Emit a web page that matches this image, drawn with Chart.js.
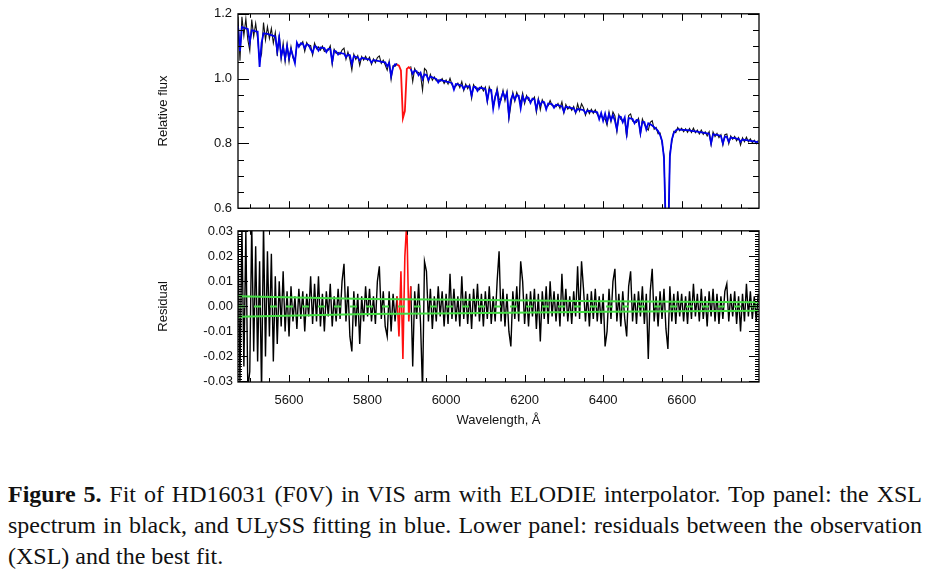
<!DOCTYPE html>
<html>
<head>
<meta charset="utf-8">
<script src="https://cdn.jsdelivr.net/npm/chart.js@4.4.1/dist/chart.umd.min.js"></script>
<style>
  html, body { margin: 0; padding: 0; background: #fff; }
  #wrap { position: relative; width: 930px; height: 581px; overflow: hidden; }
  canvas { position: absolute; left: 0; }
  #fluxChart { top: 0; }
  #residChart { top: 218px; }
  .cap { position: absolute; left: 8px; width: 914px; font-family: "Liberation Serif", "Times New Roman", serif;
         font-size: 24px; line-height: 31px; color: #111; }
  .just { text-align: justify; text-align-last: justify; }
</style>
</head>
<body>
<div id="wrap">
  <canvas id="fluxChart" width="930" height="222"></canvas>
  <canvas id="residChart" width="930" height="222"></canvas>
  <div class="cap" style="top:479px">
    <div class="just"><b>Figure 5.</b> Fit of HD16031 (F0V) in VIS arm with ELODIE interpolator. Top panel: the XSL</div>
    <div class="just">spectrum in black, and ULySS fitting in blue. Lower panel: residuals between the observation</div>
    <div>(XSL) and the best fit.</div>
  </div>
</div>
<script>
// wavelength grid, Angstrom
var wavelength = [
  5470,5475,5480,5485,5490,5495,5500,5505,5510,5515,
  5520,5525,5530,5535,5540,5545,5550,5555,5560,5565,
  5570,5575,5580,5585,5590,5595,5600,5605,5610,5615,
  5620,5625,5630,5635,5640,5645,5650,5655,5660,5665,
  5670,5675,5680,5685,5690,5695,5700,5705,5710,5715,
  5720,5725,5730,5735,5740,5745,5750,5755,5760,5765,
  5770,5775,5780,5785,5790,5795,5800,5805,5810,5815,
  5820,5825,5830,5835,5840,5845,5850,5855,5860,5865,
  5870,5875,5880,5885,5890,5895,5900,5905,5910,5915,
  5920,5925,5930,5935,5940,5945,5950,5955,5960,5965,
  5970,5975,5980,5985,5990,5995,6000,6005,6010,6015,
  6020,6025,6030,6035,6040,6045,6050,6055,6060,6065,
  6070,6075,6080,6085,6090,6095,6100,6105,6110,6115,
  6120,6125,6130,6135,6140,6145,6150,6155,6160,6165,
  6170,6175,6180,6185,6190,6195,6200,6205,6210,6215,
  6220,6225,6230,6235,6240,6245,6250,6255,6260,6265,
  6270,6275,6280,6285,6290,6295,6300,6305,6310,6315,
  6320,6325,6330,6335,6340,6345,6350,6355,6360,6365,
  6370,6375,6380,6385,6390,6395,6400,6405,6410,6415,
  6420,6425,6430,6435,6440,6445,6450,6455,6460,6465,
  6470,6475,6480,6485,6490,6495,6500,6505,6510,6515,
  6520,6525,6530,6535,6540,6545,6550,6555,6560,6565,
  6570,6575,6580,6585,6590,6595,6600,6605,6610,6615,
  6620,6625,6630,6635,6640,6645,6650,6655,6660,6665,
  6670,6675,6680,6685,6690,6695,6700,6705,6710,6715,
  6720,6725,6730,6735,6740,6745,6750,6755,6760,6765,
  6770,6775,6780,6785,6790,6795
];

// ULySS best fit (relative flux)
var fitFlux = [
  1.163,1.085,1.159,1.157,1.155,1.153,1.112,1.149,1.148,1.146,
  1.145,1.036,1.110,1.140,1.139,1.138,1.136,1.134,1.132,1.130,
  1.085,1.126,1.068,1.095,1.062,1.100,1.064,1.090,1.070,1.048,
  1.111,1.098,1.109,1.108,1.094,1.106,1.104,1.090,1.080,1.100,
  1.098,1.086,1.096,1.095,1.094,1.082,1.092,1.092,1.052,1.086,
  1.084,1.074,1.080,1.078,1.077,1.066,1.074,1.072,1.044,1.069,
  1.067,1.066,1.056,1.064,1.063,1.061,1.060,1.059,1.050,1.057,
  1.056,1.055,1.054,1.052,1.051,1.050,1.038,1.048,1.008,1.035,
  1.044,1.043,1.040,1.025,0.878,0.900,1.030,1.035,1.030,1.015,
  1.025,1.023,1.010,1.018,0.998,1.013,1.011,0.996,1.006,1.004,
  1.001,0.999,0.988,0.996,0.994,0.993,0.991,0.990,0.988,0.986,
  0.966,0.983,0.982,0.980,0.979,0.968,0.977,0.976,0.976,0.948,
  0.974,0.974,0.962,0.972,0.971,0.970,0.968,0.933,0.966,0.965,
  0.908,0.945,0.961,0.915,0.940,0.957,0.940,0.955,0.886,0.935,
  0.951,0.935,0.949,0.947,0.908,0.945,0.930,0.943,0.941,0.925,
  0.938,0.936,0.905,0.933,0.918,0.929,0.927,0.905,0.923,0.922,
  0.921,0.910,0.919,0.918,0.916,0.915,0.898,0.913,0.912,0.910,
  0.909,0.908,0.897,0.906,0.905,0.904,0.903,0.893,0.901,0.900,
  0.899,0.898,0.897,0.896,0.875,0.894,0.870,0.892,0.866,0.890,
  0.872,0.887,0.870,0.843,0.883,0.882,0.865,0.880,0.830,0.878,
  0.877,0.875,0.862,0.872,0.871,0.832,0.867,0.866,0.843,0.862,
  0.859,0.855,0.850,0.845,0.838,0.826,0.808,0.755,0.520,0.460,
  0.760,0.812,0.832,0.840,0.843,0.843,0.842,0.842,0.841,0.841,
  0.840,0.839,0.838,0.837,0.836,0.835,0.834,0.833,0.832,0.831,
  0.830,0.800,0.828,0.827,0.826,0.825,0.823,0.800,0.821,0.820,
  0.805,0.818,0.817,0.816,0.815,0.814,0.805,0.812,0.811,0.810,
  0.809,0.808,0.807,0.806,0.805,0.804
];

// residual (XSL - fit)
var residual = [
  0.028,-0.030,0.032,-0.024,0.030,-0.033,-0.026,0.033,-0.018,0.024,
  -0.022,0.018,-0.034,0.033,-0.020,0.022,-0.012,0.021,-0.022,0.012,
  -0.015,0.010,-0.008,0.014,-0.010,0.006,-0.012,0.008,-0.006,0.004,
  -0.009,0.007,-0.005,0.006,-0.010,0.005,-0.004,0.012,-0.007,0.009,
  -0.006,0.012,-0.008,0.005,-0.010,0.006,-0.004,0.009,-0.008,0.004,
  -0.006,0.007,-0.005,0.010,0.017,-0.006,0.008,-0.012,-0.018,0.006,
  -0.008,0.005,-0.015,0.004,-0.006,0.008,-0.004,0.007,-0.006,0.004,
  -0.007,0.010,0.016,-0.005,0.006,-0.008,-0.012,0.006,-0.010,0.005,
  -0.006,0.004,-0.012,0.014,-0.021,0.020,0.034,-0.006,0.008,-0.024,
  0.006,-0.005,0.009,-0.007,-0.034,0.018,0.014,-0.006,0.007,-0.009,
  0.004,-0.006,0.008,-0.004,0.006,-0.008,0.005,-0.007,0.013,-0.005,
  0.007,-0.006,0.004,-0.008,0.012,-0.005,0.006,-0.007,0.005,-0.009,
  0.007,-0.004,0.009,-0.006,0.005,-0.008,0.006,-0.005,0.008,-0.007,
  0.004,-0.006,0.010,0.022,-0.006,0.007,-0.008,0.005,-0.010,-0.016,
  0.006,-0.005,0.008,-0.006,0.018,0.010,-0.007,0.005,-0.008,0.006,
  -0.004,0.007,-0.009,0.005,-0.014,0.006,-0.005,0.008,-0.007,0.010,
  -0.004,0.006,-0.006,0.005,-0.008,0.013,-0.004,0.007,-0.006,0.004,
  -0.007,0.006,-0.004,0.016,-0.005,0.018,0.007,-0.006,0.005,-0.008,
  0.006,-0.005,0.007,-0.006,0.004,-0.007,0.005,-0.016,-0.010,0.007,
  -0.005,0.010,0.015,-0.006,0.005,-0.008,0.006,-0.005,-0.012,0.008,
  0.014,-0.006,0.005,-0.007,0.006,-0.004,0.008,-0.007,0.005,-0.021,
  0.006,0.015,-0.006,0.004,-0.008,0.006,-0.005,0.007,-0.009,-0.017,
  0.008,-0.006,0.005,-0.007,0.006,-0.004,0.005,-0.006,0.004,-0.007,
  0.006,-0.005,0.009,-0.004,0.005,-0.006,0.007,-0.005,0.004,-0.008,
  0.006,-0.004,0.007,-0.006,0.005,-0.007,0.004,-0.005,0.006,0.009,
  -0.006,0.005,-0.004,0.006,-0.007,0.004,-0.010,0.005,-0.006,0.009,
  -0.004,0.006,-0.005,0.004,-0.006,0.005
];

// region rejected from the fit (Na D), drawn in red
var maskRange = [5880, 5905];

// noise level shown by the green lines
var sigmaWave = [5470, 5800, 6040, 6400, 6795];
var sigmaLevel = [0.0041, 0.0030, 0.0027, 0.0021, 0.0017];

var waveTicks = [5600, 5800, 6000, 6200, 6400, 6600];
var fluxTicks = [0.6, 0.8, 1.0, 1.2];
var residTicks = [-0.03, -0.02, -0.01, 0.00, 0.01, 0.02, 0.03];

Chart.defaults.font.family = "'Liberation Sans', Arial, sans-serif";
Chart.defaults.font.size = 13;
Chart.defaults.color = '#111';

function inMask(i) {
  return i >= 0 && i < wavelength.length && wavelength[i] >= maskRange[0] && wavelength[i] <= maskRange[1];
}
function series(values, keep) {
  return wavelength.map(function (w, i) { return { x: w, y: keep(i) ? values[i] : null }; });
}
function outside(i) { return !inMask(i); }
function nearMask(i) { return inMask(i) || inMask(i - 1) || inMask(i + 1); }

var observed = fitFlux.map(function (f, i) { return f + residual[i]; });

// IDL style frame with inward ticks on all four sides
function frameTicks(cfg) {
  return {
    id: 'frameTicks',
    afterDatasetsDraw: function (chart) {
      var ctx = chart.ctx, a = chart.chartArea;
      var xs = chart.scales.x, ys = chart.scales.y;
      function isMajor(list, v, step) {
        return list.some(function (t) { return Math.abs(t - v) < step / 10; });
      }
      function xMark(v, len) {
        var p = Math.round(xs.getPixelForValue(v)) + 0.5;
        ctx.moveTo(p, a.bottom); ctx.lineTo(p, a.bottom - len);
        ctx.moveTo(p, a.top); ctx.lineTo(p, a.top + len);
      }
      function yMark(v, len) {
        var p = Math.round(ys.getPixelForValue(v)) + 0.5;
        ctx.moveTo(a.left, p); ctx.lineTo(a.left + len, p);
        ctx.moveTo(a.right, p); ctx.lineTo(a.right - len, p);
      }
      ctx.save();
      ctx.strokeStyle = '#000';
      ctx.lineWidth = 1;
      ctx.beginPath();
      cfg.xMajor.forEach(function (v) { xMark(v, cfg.xMajorLen); });
      for (var i = Math.ceil(xs.min / cfg.xStep); i * cfg.xStep <= xs.max; i++) {
        if (!isMajor(cfg.xMajor, i * cfg.xStep, cfg.xStep)) xMark(i * cfg.xStep, cfg.xMinorLen);
      }
      cfg.yMajor.forEach(function (v) { yMark(v, cfg.yMajorLen); });
      for (var j = Math.ceil(ys.min / cfg.yStep - 1e-6); j * cfg.yStep <= ys.max + 1e-9; j++) {
        if (!isMajor(cfg.yMajor, j * cfg.yStep, cfg.yStep)) yMark(j * cfg.yStep, cfg.yMinorLen);
      }
      ctx.stroke();
      ctx.lineWidth = 1.3;
      ctx.strokeRect(a.left, a.top, a.right - a.left, a.bottom - a.top);
      ctx.restore();
    }
  };
}

function xScale(showLabels, height) {
  return {
    type: 'linear', min: 5470, max: 6797,
    grid: { display: false, drawTicks: false },
    border: { display: false },
    afterBuildTicks: function (s) { s.ticks = waveTicks.map(function (v) { return { value: v }; }); },
    afterFit: function (s) { s.height = height; },
    ticks: { display: showLabels, padding: 11, maxRotation: 0, autoSkip: false,
             callback: function (v) { return String(v); } },
    title: { display: showLabels, text: 'Wavelength, \u00c5', padding: { top: 0, bottom: 12 } }
  };
}

new Chart(document.getElementById('fluxChart'), {
  type: 'line',
  data: {
    datasets: [
      { data: series(fitFlux, nearMask), borderColor: '#ff1010', borderWidth: 1.8 },
      { data: series(fitFlux, outside), borderColor: '#0000ea', borderWidth: 1.8 },
      { data: series(observed, outside), borderColor: '#111', borderWidth: 1.1 }
    ]
  },
  options: {
    responsive: false, animation: false,
    layout: { padding: { left: 150, right: 171, top: 13, bottom: 0 } },
    elements: { point: { radius: 0 }, line: { tension: 0 } },
    plugins: { legend: { display: false }, tooltip: { enabled: false } },
    scales: {
      x: xScale(false, 9),
      y: {
        min: 0.6, max: 1.2,
        grid: { display: false, drawTicks: false },
        border: { display: false },
        afterBuildTicks: function (s) { s.ticks = fluxTicks.map(function (v) { return { value: v }; }); },
        afterFit: function (s) { s.width = 88; },
        ticks: { padding: 6, callback: function (v) { return v.toFixed(1); } },
        title: { display: true, text: 'Relative flux', padding: { top: 6, bottom: 0 } }
      }
    }
  },
  plugins: [frameTicks({ xMajor: waveTicks, xStep: 50, xMajorLen: 7, xMinorLen: 4,
                         yMajor: fluxTicks, yStep: 0.05, yMajorLen: 11, yMinorLen: 6 })]
});

var sigmaUpper = sigmaWave.map(function (w, i) { return { x: w, y: sigmaLevel[i] }; });
var sigmaLower = sigmaWave.map(function (w, i) { return { x: w, y: -sigmaLevel[i] }; });
var zeroLine = [{ x: sigmaWave[0], y: 0 }, { x: sigmaWave[sigmaWave.length - 1], y: 0 }];

new Chart(document.getElementById('residChart'), {
  type: 'line',
  data: {
    datasets: [
      { data: sigmaUpper, borderColor: '#44dd44', borderWidth: 2 },
      { data: sigmaLower, borderColor: '#44dd44', borderWidth: 2 },
      { data: zeroLine, borderColor: '#44dd44', borderWidth: 2, borderDash: [7, 9] },
      { data: series(residual, nearMask), borderColor: '#ff1010', borderWidth: 1.6 },
      { data: series(residual, outside), borderColor: '#000', borderWidth: 1.4 }
    ]
  },
  options: {
    responsive: false, animation: false,
    layout: { padding: { left: 150, right: 171, top: 10, bottom: 0 } },
    elements: { point: { radius: 0 }, line: { tension: 0 } },
    plugins: { legend: { display: false }, tooltip: { enabled: false } },
    scales: {
      x: xScale(true, 58),
      y: {
        min: -0.0302, max: 0.0302,
        grid: { display: false, drawTicks: false },
        border: { display: false },
        afterBuildTicks: function (s) { s.ticks = residTicks.map(function (v) { return { value: v }; }); },
        afterFit: function (s) { s.width = 88; },
        ticks: { padding: 5, callback: function (v) { return v.toFixed(2); } },
        title: { display: true, text: 'Residual', padding: { top: 6, bottom: 0 } }
      }
    }
  },
  plugins: [frameTicks({ xMajor: waveTicks, xStep: 50, xMajorLen: 7, xMinorLen: 4,
                         yMajor: residTicks, yStep: 0.001, yMajorLen: 10, yMinorLen: 4 })]
});
</script>
</body>
</html>
